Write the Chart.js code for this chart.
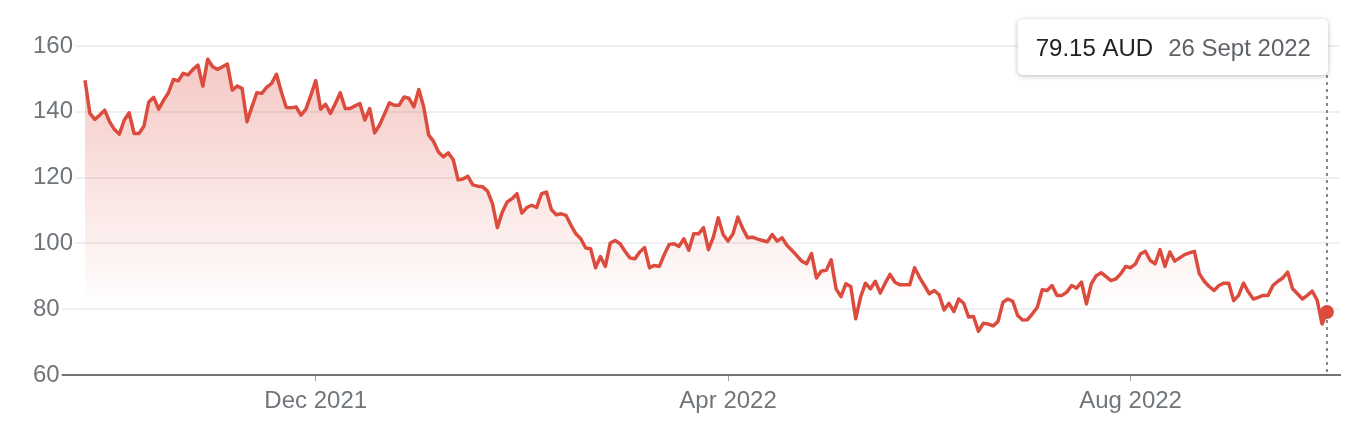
<!DOCTYPE html>
<html>
<head>
<meta charset="utf-8">
<script src="https://cdn.jsdelivr.net/npm/chart.js@4.4.0/dist/chart.umd.min.js"></script>
<style>
  html, body { margin: 0; padding: 0; background: #fff; }
  #wrap { width: 1372px; height: 432px; position: relative; }
</style>
</head>
<body>
<div id="wrap"><canvas id="chart"></canvas></div>
<script>
// closing prices, one per trading day, 27 Sept 2021 -> 26 Sept 2022
const prices = [
  149.6, 139.5, 137.7, 139.0, 140.5, 137.0, 134.6, 133.2, 137.5, 139.7,
  133.4, 133.4, 135.6, 143.0, 144.4, 140.8, 143.5, 145.8, 149.8, 149.4,
  151.7, 151.2, 152.9, 154.2, 147.8, 156.0, 153.7, 152.9, 153.7, 154.5,
  146.6, 147.8, 147.1, 137.0, 141.5, 145.8, 145.6, 147.4, 148.6, 151.4,
  146.0, 141.3, 141.2, 141.5, 139.0, 140.8, 145.0, 149.5, 140.8, 142.3,
  139.5, 142.5, 145.8, 141.0, 141.0, 141.8, 142.5, 137.5, 141.0, 133.6,
  136.0, 139.3, 142.7, 142.0, 142.0, 144.5, 144.1, 141.5, 146.8, 141.5,
  133.0, 131.0, 127.8, 126.3, 127.5, 125.5, 119.3, 119.6, 120.4, 117.8,
  117.4, 117.2, 115.9, 112.1, 104.8, 109.5, 112.6, 113.6, 115.1, 109.2,
  110.9, 111.6, 110.9, 115.1, 115.6, 110.3, 108.7, 109.0, 108.5, 105.5,
  102.9, 101.4, 98.6, 98.4, 92.6, 96.0, 93.0, 100.1, 100.9, 99.9,
  97.6, 95.6, 95.3, 97.4, 98.7, 92.6, 93.3, 93.0, 96.6, 99.7,
  99.9, 99.1, 101.4, 97.9, 102.9, 102.9, 104.8, 98.1, 101.9, 107.8,
  102.7, 100.7, 102.9, 108.0, 104.5, 101.7, 101.9, 101.3, 100.9, 100.5,
  102.7, 100.7, 101.7, 99.4, 97.9, 96.3, 94.6, 93.8, 96.9, 89.5,
  91.6, 91.8, 95.0, 86.2, 83.8, 87.7, 86.9, 77.1, 83.7, 87.9,
  86.2, 88.5, 84.9, 87.9, 90.6, 88.2, 87.4, 87.4, 87.4, 92.6,
  89.7, 87.2, 84.7, 85.7, 84.4, 79.8, 81.8, 79.3, 83.1, 81.8,
  77.6, 77.8, 73.3, 75.7, 75.5, 74.9, 76.3, 82.1, 83.1, 82.4,
  78.1, 76.7, 76.8, 78.6, 80.6, 85.9, 85.7, 87.2, 84.2, 84.2,
  85.2, 87.2, 86.4, 88.2, 81.6, 87.7, 90.2, 91.1, 89.9, 88.7,
  89.2, 90.8, 93.0, 92.6, 93.8, 96.8, 97.6, 94.8, 93.8, 98.1,
  93.0, 97.4, 94.6, 95.6, 96.6, 97.1, 97.6, 90.8, 88.5, 86.9,
  85.7, 87.2, 87.9, 87.9, 82.6, 84.2, 87.9, 85.2, 83.1, 83.6,
  84.2, 84.2, 87.2, 88.5, 89.5, 91.3, 86.2, 84.7, 83.1, 84.2,
  85.5, 82.8, 75.5, 79.15
];

const tickIndex = [47, 131, 213];           // trading-day index of each month label
const tickLabels = ['Dec 2021', 'Apr 2022', 'Aug 2022'];
const yMin = 60, yMax = 160, yStep = 20;

const lastPrice = '79.15 AUD';
const lastDate = '26 Sept 2022';

const RED = '#dc4c3e';
const GREY_TEXT = '#70757a';
const GRID = '#efefef';

Chart.defaults.font.family = 'Arial, "Liberation Sans", sans-serif';
Chart.defaults.font.size = 24;
Chart.defaults.color = GREY_TEXT;

const points = prices.map((v, i) => ({ x: i, y: v }));
const lastIdx = prices.length - 1;

// grid lines run out to the left until they reach their label, and the tooltip
const extras = {
  id: 'extras',
  beforeDatasetsDraw(chart) {
    const ctx = chart.ctx;
    const area = chart.chartArea;
    const ys = chart.scales.y;
    const xs = chart.scales.x;
    ctx.save();
    ctx.font = '24px ' + Chart.defaults.font.family;
    ys.ticks.forEach((t) => {
      const py = ys.getPixelForValue(t.value);
      const w = ctx.measureText(String(t.value)).width;
      ctx.beginPath();
      ctx.lineWidth = 2;
      ctx.strokeStyle = t.value === yMin ? GREY_TEXT : GRID;
      ctx.moveTo(ys.left + w + 2, py);
      ctx.lineTo(area.left, py);
      ctx.stroke();
    });
    // dotted marker line at the latest point
    const px = xs.getPixelForValue(lastIdx);
    ctx.beginPath();
    ctx.setLineDash([3, 4]);
    ctx.lineWidth = 2;
    ctx.strokeStyle = '#80868b';
    ctx.moveTo(px, 75);
    ctx.lineTo(px, area.bottom);
    ctx.stroke();
    ctx.restore();
  },
  afterDraw(chart) {
    const ctx = chart.ctx;
    const xs = chart.scales.x;
    const px = xs.getPixelForValue(lastIdx);
    ctx.save();
    ctx.font = '24px ' + Chart.defaults.font.family;
    const w1 = ctx.measureText(lastPrice).width;
    const w2 = ctx.measureText(lastDate).width;
    const bw = 18 + w1 + 15 + w2 + 17;
    const bx = px + 1 - bw, by = 19, bh = 56;
    ctx.shadowColor = 'rgba(0,0,0,0.28)';
    ctx.shadowBlur = 5;
    ctx.shadowOffsetY = 1;
    ctx.fillStyle = '#fff';
    ctx.beginPath();
    ctx.roundRect(bx, by, bw, bh, 5);
    ctx.fill();
    ctx.shadowColor = 'transparent';
    ctx.textBaseline = 'alphabetic';
    ctx.fillStyle = '#202124';
    ctx.fillText(lastPrice, bx + 18, 56);
    ctx.fillStyle = '#5f6368';
    ctx.fillText(lastDate, bx + 18 + w1 + 15, 56);
    ctx.restore();
  }
};

new Chart(document.getElementById('chart'), {
  type: 'line',
  data: {
    datasets: [{
      data: points,
      borderColor: RED,
      borderWidth: 3.5,
      borderJoinStyle: 'round',
      tension: 0,
      fill: 'start',
      backgroundColor: (c) => {
        const area = c.chart.chartArea;
        if (!area) return 'rgba(220,76,62,0.2)';
        const g = c.chart.ctx.createLinearGradient(0, area.top, 0, 310);
        g.addColorStop(0, 'rgba(220,76,62,0.32)');
        g.addColorStop(1, 'rgba(220,76,62,0)');
        return g;
      },
      pointRadius: (c) => (c.dataIndex === lastIdx ? 7 : 0),
      pointHoverRadius: 0,
      pointBackgroundColor: RED,
      pointBorderWidth: 0
    }]
  },
  options: {
    responsive: true,
    maintainAspectRatio: false,
    animation: false,
    events: [],
    layout: { padding: { left: 33, right: 32, top: 46, bottom: 0 } },
    plugins: { legend: { display: false }, tooltip: { enabled: false } },
    scales: {
      x: {
        type: 'linear',
        min: -2.04,
        max: 255.66,
        afterBuildTicks: (s) => { s.ticks = tickIndex.map((v) => ({ value: v })); },
        afterFit: (s) => { s.height = 57; },
        grid: { drawOnChartArea: false, drawTicks: true, tickLength: 6, color: '#9aa0a6', lineWidth: 1 },
        border: { display: true, color: GREY_TEXT, width: 2 },
        ticks: {
          autoSkip: false,
          maxRotation: 0,
          padding: 6,
          color: GREY_TEXT,
          callback: (v) => tickLabels[tickIndex.indexOf(v)]
        }
      },
      y: {
        min: yMin,
        max: yMax,
        afterFit: (s) => { s.width = 42; },
        grid: { drawTicks: false, color: (c) => (c.tick.value === yMin ? 'transparent' : GRID), lineWidth: 2 },
        border: { display: false },
        ticks: { stepSize: yStep, crossAlign: 'far', padding: 2, color: GREY_TEXT }
      }
    }
  },
  plugins: [extras]
});
</script>
</body>
</html>
